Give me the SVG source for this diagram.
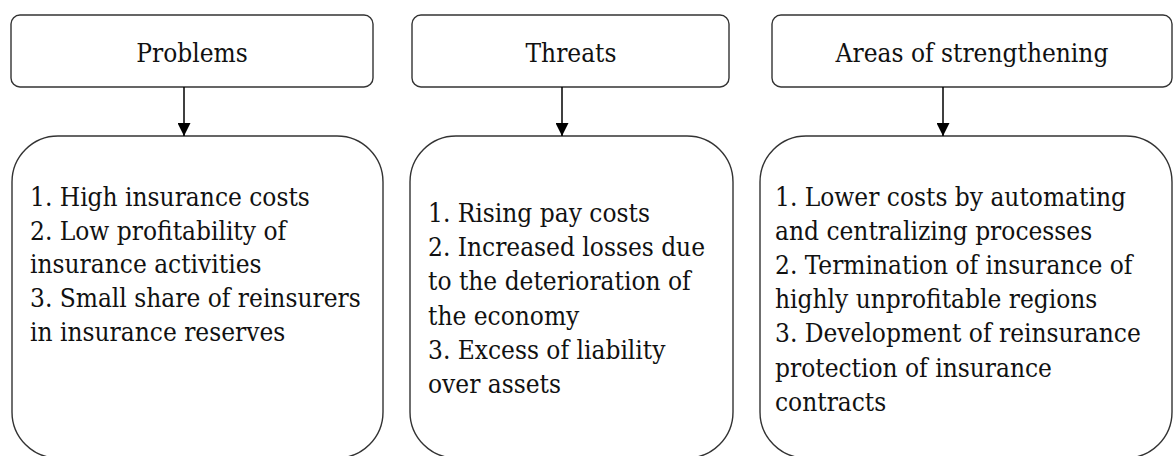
<svg xmlns="http://www.w3.org/2000/svg" width="1173" height="456" viewBox="0 0 1173 456">
<style>
.box{fill:#fff;stroke:#333;stroke-width:1.4}
.t{font-family:'DejaVu Serif Condensed','DejaVu Serif','Liberation Serif',serif;font-stretch:condensed;font-size:26px;fill:#111}
.c{text-anchor:middle}
.conn{stroke:#000;stroke-width:1.5;fill:none}
</style>
<defs>
<marker id="ah" markerUnits="userSpaceOnUse" markerWidth="14" markerHeight="13" refX="13" refY="6.5" orient="auto">
<path d="M0,0 L13,6.5 L0,13 Z" fill="#000"/>
</marker>
</defs>
<rect width="1173" height="456" fill="#fff"/>
<g id="problems-head"><rect class="box" x="11" y="15" width="362" height="72" rx="9"/><text class="t c" x="192" y="62">Problems</text></g>
<g id="threats-head"><rect class="box" x="412" y="15" width="317" height="72" rx="9"/><text class="t c" x="571" y="62">Threats</text></g>
<g id="areas-head"><rect class="box" x="772" y="15" width="400" height="72" rx="9"/><text class="t c" x="972" y="62">Areas of strengthening</text></g>
<g id="problems-body"><rect class="box" x="12" y="136" width="371" height="322" rx="46"/>
<text class="t" x="30"><tspan x="30" y="206">1. High insurance costs</tspan><tspan x="30" y="240">2. Low profitability of</tspan><tspan x="30" y="273">insurance activities</tspan><tspan x="30" y="307">3. Small share of reinsurers</tspan><tspan x="30" y="341">in insurance reserves</tspan></text></g>
<g id="threats-body"><rect class="box" x="410" y="136" width="323" height="322" rx="46"/>
<text class="t" x="428"><tspan x="428" y="222">1. Rising pay costs</tspan><tspan x="428" y="256">2. Increased losses due</tspan><tspan x="428" y="290">to the deterioration of</tspan><tspan x="428" y="325">the economy</tspan><tspan x="428" y="359">3. Excess of liability</tspan><tspan x="428" y="393">over assets</tspan></text></g>
<g id="areas-body"><rect class="box" x="760" y="136" width="412" height="322" rx="46"/>
<text class="t" x="775"><tspan x="775" y="206">1. Lower costs by automating</tspan><tspan x="775" y="240">and centralizing processes</tspan><tspan x="775" y="274">2. Termination of insurance of</tspan><tspan x="775" y="308">highly unprofitable regions</tspan><tspan x="775" y="342">3. Development of reinsurance</tspan><tspan x="775" y="377">protection of insurance</tspan><tspan x="775" y="411">contracts</tspan></text></g>
<g id="connectors">
<line class="conn" x1="184" y1="87" x2="184" y2="136" marker-end="url(#ah)"/>
<line class="conn" x1="562" y1="87" x2="562" y2="136" marker-end="url(#ah)"/>
<line class="conn" x1="943" y1="87" x2="943" y2="136" marker-end="url(#ah)"/>
</g>
</svg>
